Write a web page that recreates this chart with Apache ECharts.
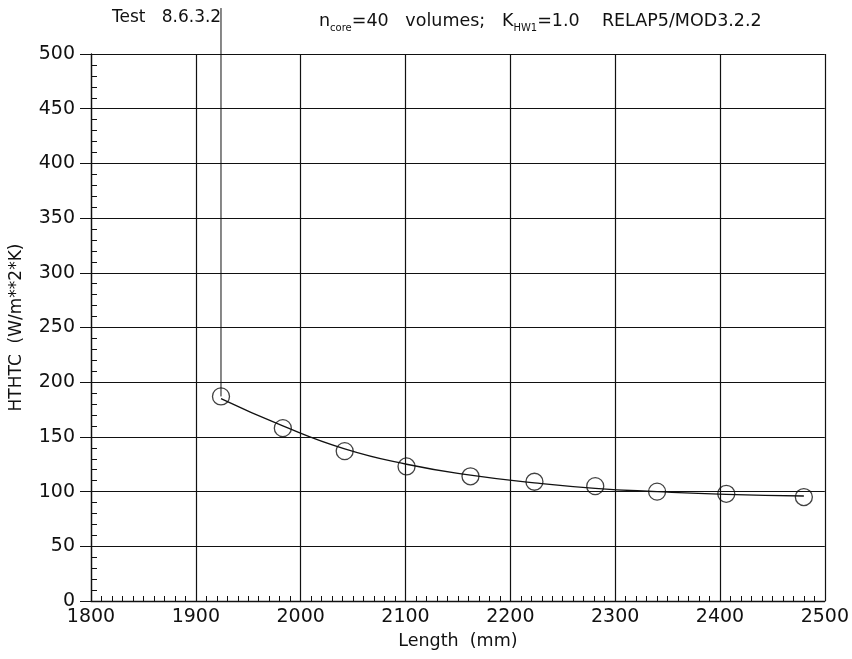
<!DOCTYPE html>
<html>
<head>
<meta charset="utf-8">
<script src="https://cdn.jsdelivr.net/npm/echarts@6/dist/echarts.min.js"></script>
<style>
  html, body { margin: 0; padding: 0; background: #fff; }
  #chart { width: 852px; height: 659px; }
</style>
</head>
<body>
<div id="chart"></div>
<script>
// Axial positions of the heat-transfer coefficient points (mm)
const lengthMm = [1924, 1983, 2042, 2101, 2162, 2223, 2281, 2340, 2406, 2480];
// Measured HTHTC values (W/m**2*K)
const htcValues = [187, 158, 137, 123, 114, 109, 105, 100, 98, 95];
// Smooth calculated curve at the same positions
const curveValues = [185, 160, 139, 125, 115, 108, 103, 100, 97.5, 96];
// Vertical marker above the first point (top end reaches past the frame)
const markerX = [1924, 1924];
const markerY = [187, 542];
// Axis ticks
const xTicks = [1800, 1900, 2000, 2100, 2200, 2300, 2400, 2500];
const yTicks = [0, 50, 100, 150, 200, 250, 300, 350, 400, 450, 500];

const FONT = 'DejaVu Sans';
const INK = '#111';

const chart = echarts.init(document.getElementById('chart'));
chart.setOption({
  backgroundColor: '#fff',
  animation: false,
  title: [
    {
      text: 'Test   8.6.3.2',
      left: 107, top: 4,
      textStyle: { fontFamily: FONT, fontSize: 17, fontWeight: 'normal', color: INK }
    },
    {
      text: '{n|n}{s|core}{n|=40   volumes;   K}{s|HW1}{n|=1.0    RELAP5/MOD3.2.2}',
      left: 314, top: 3,
      textStyle: {
        fontWeight: 'normal',
        rich: {
          n: { fontFamily: FONT, fontSize: 17.5, fontWeight: 'normal', color: INK, lineHeight: 22, verticalAlign: 'bottom' },
          s: { fontFamily: FONT, fontSize: 10, fontWeight: 'normal', color: INK, lineHeight: 22, verticalAlign: 'bottom', padding: [0, 0, -3, 0] }
        }
      }
    }
  ],
  grid: { left: 91, right: 26, top: 54, bottom: 58 },
  xAxis: {
    type: 'value',
    min: xTicks[0], max: xTicks[xTicks.length - 1], interval: 100,
    name: 'Length  (mm)', nameLocation: 'middle', nameGap: 31,
    nameTextStyle: { fontFamily: FONT, fontSize: 17.5, color: INK },
    axisLine: { show: true, lineStyle: { color: INK, width: 1.3 } },
    axisTick: { show: true, inside: true, length: 6, lineStyle: { color: INK } },
    minorTick: { show: true, splitNumber: 10, length: 5, lineStyle: { color: INK, width: 1 } },
    axisLabel: { fontFamily: FONT, fontSize: 19, color: INK, margin: 7,
      formatter: v => xTicks.includes(v) ? String(v) : '' },
    splitLine: { show: true, lineStyle: { color: INK, width: 1.2 } }
  },
  yAxis: {
    type: 'value',
    min: yTicks[0], max: yTicks[yTicks.length - 1], interval: 50,
    name: 'HTHTC  (W/m**2*K)', nameLocation: 'middle', nameGap: 66, nameRotate: 90,
    nameTextStyle: { fontFamily: FONT, fontSize: 17, color: INK },
    axisLine: { show: true, lineStyle: { color: INK, width: 1.3 } },
    axisTick: { show: true, inside: false, length: 11, lineStyle: { color: INK } },
    minorTick: { show: true, splitNumber: 5, length: -6, lineStyle: { color: INK, width: 1 } },
    axisLabel: { fontFamily: FONT, fontSize: 19, color: INK, margin: 16,
      formatter: v => yTicks.includes(v) ? String(v) : '' },
    splitLine: { show: true, lineStyle: { color: INK, width: 1.2 } }
  },
  series: [
    {
      name: 'curve',
      type: 'line',
      smooth: true,
      symbol: 'none',
      data: lengthMm.map((x, i) => [x, curveValues[i]]),
      lineStyle: { color: INK, width: 1.3 }
    },
    {
      name: 'marker',
      type: 'line',
      symbol: 'none',
      clip: false,
      data: markerX.map((x, i) => [x, markerY[i]]),
      lineStyle: { color: INK, width: 1 }
    },
    {
      name: 'data',
      type: 'scatter',
      symbol: 'circle',
      symbolSize: 17,
      data: lengthMm.map((x, i) => [x, htcValues[i]]),
      itemStyle: { color: 'rgba(255,255,255,0)', borderColor: INK, borderWidth: 1.3 }
    }
  ]
});
</script>
</body>
</html>
